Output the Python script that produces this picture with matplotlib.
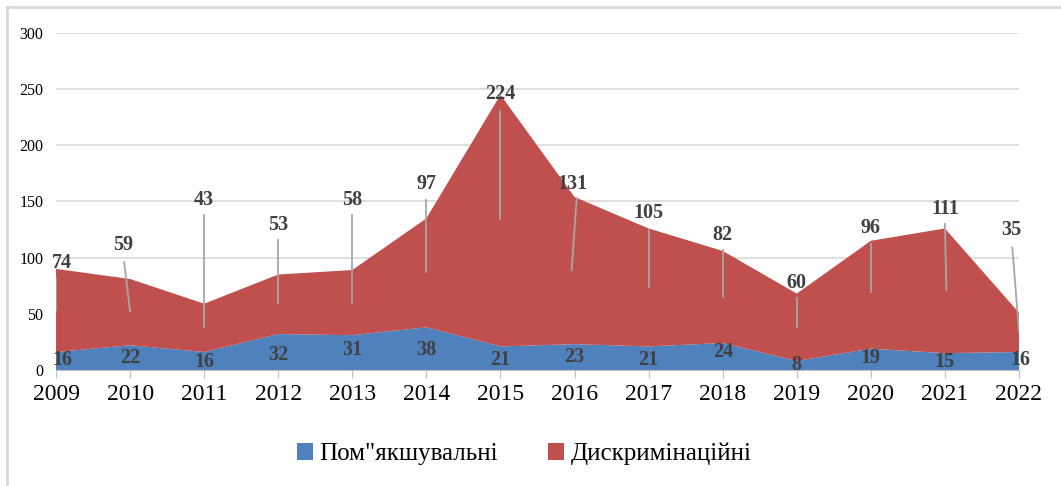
import numpy as np
import matplotlib.pyplot as plt
from matplotlib.lines import Line2D

# дані
roky = ["2009", "2010", "2011", "2012", "2013", "2014", "2015",
        "2016", "2017", "2018", "2019", "2020", "2021", "2022"]
pomyakshuvalni = [16, 22, 16, 32, 31, 38, 21, 23, 21, 24, 8, 19, 15, 16]
dyskryminatsiini = [74, 59, 43, 53, 58, 97, 224, 131, 105, 82, 60, 96, 111, 35]

# розташування підписів (y підпису, x-зсув підпису, кінці лінії-виноски)
pidpys_y = [95, 111, 151, 129, 151, 166, 246, 166, 140, 120, 77, 126, 143, 125]
pidpys_dx = [0.08, -0.1, 0, 0, 0, 0, 0, -0.03, 0, 0, 0, 0, 0, -0.1]
liniya_verh = [82, 96, 138, 116, 138, 151, 231, 153, 125, 107, 64, 112, 130, 109]
liniya_niz = [53, 52, 38, 60, 60, 87, 134, 89, 74, 65, 38, 69, 71, 34]
liniya_dx = [(0, 0), (-0.08, 0), (0, 0), (0, 0), (0, 0), (0, 0), (0, 0),
             (0.03, -0.04), (0, 0), (0, 0), (0, 0), (0, 0), (0, 0.02), (-0.09, 0)]
blue_y = [9, 11, 7, 13, 18, 18, 9, 12, 9, 16, 4, 11, 7, 9]

synii = "#4F81BD"
chervonyi = "#C0504D"
serif = ["Liberation Serif", "DejaVu Serif"]

x = np.arange(len(roky))

fig = plt.figure(figsize=(10.61, 4.86), dpi=100)
ax = fig.add_axes([0.0528, 0.2387, 0.9076, 0.6934])

ax.stackplot(x, pomyakshuvalni, dyskryminatsiini, colors=[synii, chervonyi],
             labels=['Пом"якшувальні', "Дискримінаційні"], linewidth=0)

ax.set_xlim(0, len(roky) - 1)
ax.set_ylim(0, 300)
ax.set_yticks(range(0, 301, 50))
ax.yaxis.grid(True, color="#D9D9D9", linewidth=1.2)
ax.set_axisbelow(True)
for s in ["top", "right", "left"]:
    ax.spines[s].set_visible(False)
ax.spines["bottom"].set_color("#BFBFBF")
ax.tick_params(axis="y", length=0, labelsize=11.5, pad=9)
ax.tick_params(axis="x", length=6, color="#BFBFBF", labelsize=17, pad=4)
ax.set_xticks(x)
ax.set_xticklabels(roky, family=serif)
for t in ax.get_yticklabels():
    t.set_family(serif)

# підписи червоної області з лініями-виносками
for i in range(len(roky)):
    ax.plot([x[i] + liniya_dx[i][0], x[i] + liniya_dx[i][1]],
            [liniya_verh[i], liniya_niz[i]], color="#A6A6A6", linewidth=1.3)
    ax.text(x[i] + pidpys_dx[i], pidpys_y[i], str(dyskryminatsiini[i]),
            ha="center", va="center", fontsize=14.5, fontweight="bold",
            color="#404040", family=serif)
    ax.text(x[i] + (0.08 if i == 0 else 0.02 if i == 13 else 0), blue_y[i],
            str(pomyakshuvalni[i]), ha="center", va="center", fontsize=14.5,
            fontweight="bold", color="#404040", family=serif, clip_on=False)

leg = fig.legend(loc="center", bbox_to_anchor=(0.494, 0.066), ncol=2,
                 frameon=False, prop={"family": serif, "size": 18},
                 handlelength=0.65, handleheight=0.65, handletextpad=0.25,
                 columnspacing=2.0)

# рамка (видно лише верхній і лівий край)
fig.add_artist(Line2D([0.0066, 1.0], [0.986, 0.986], transform=fig.transFigure,
                      color="#D9D9D9", linewidth=2))
fig.add_artist(Line2D([0.0066, 0.0066], [0.0, 0.986], transform=fig.transFigure,
                      color="#D9D9D9", linewidth=2))

fig.savefig("out.png", dpi=100)
